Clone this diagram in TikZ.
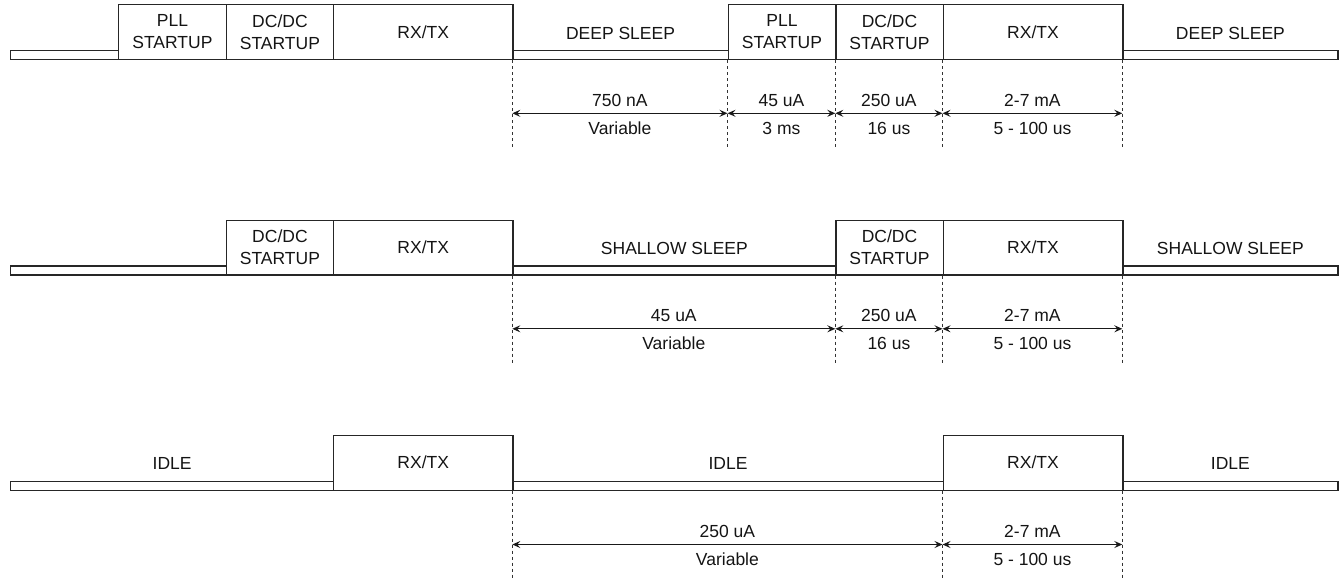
\documentclass[tikz,border=0pt]{standalone}
\usepackage{fontspec}
\setmainfont{Liberation Sans}
\usetikzlibrary{arrows.meta}
\begin{document}
\begin{tikzpicture}[x=1pt,y=-1pt,
  lbl/.style={font=\fontsize{17.5}{22}\selectfont, align=center, text=black!92},
  hi/.style={draw=black!85, line width=1.2pt, minimum height=54.8pt, inner sep=0pt, anchor=south west, lbl},
  lo/.style={draw=black!85, line width=1.2pt, minimum height=9pt, inner sep=0pt, anchor=south west},
  bartext/.style={lbl, inner sep=0pt, anchor=center, text height=12.5pt, text depth=0pt},
  guide/.style={draw=black!80, line width=0.8pt, dash pattern=on 3pt off 3pt},
  dim/.style={draw=black!90, line width=1.1pt, {Stealth[length=8pt,width=7pt,inset=3pt]}-{Stealth[length=8pt,width=7pt,inset=3pt]}},
  up/.style={lbl, yshift=13.5pt, text height=12.5pt, text depth=0pt, inner sep=0pt},
  dn/.style={lbl, yshift=-14.5pt, text height=12.5pt, text depth=0pt, inner sep=0pt}
]
\useasboundingbox (0,0) rectangle (1340,579);

% ---------- Row 1 ----------
\node[lo, minimum width=108pt] (r1a) at (10,60) {};
\node[hi, minimum width=107.7pt] (r1b) at (118,60) {PLL\\STARTUP};
\node[hi, minimum width=107.3pt] (r1c) at (225.7,60) {DC/DC\\STARTUP};
\node[hi, minimum width=179.3pt] (r1d) at (333,60) {RX/TX};
\node[lo, minimum width=215.2pt] (r1e) at (512.3,60) {};
\node[bartext] (r1et) at ([yshift=22pt]r1e.center) {DEEP SLEEP};
\node[hi, minimum width=107.8pt] (r1f) at (727.5,60) {PLL\\STARTUP};
\node[hi, minimum width=107.2pt] (r1g) at (835.3,60) {DC/DC\\STARTUP};
\node[hi, minimum width=179.8pt] (r1h) at (942.5,60) {RX/TX};
\node[lo, minimum width=215pt] (r1i) at (1122.3,60) {};
\node[bartext] (r1it) at ([yshift=22pt]r1i.center) {DEEP SLEEP};

\foreach \x [count=\i] in {512.3,727.5,835.3,942.5,1122.3} {
  \coordinate (g1t\i) at (\x,60);
  \coordinate (g1b\i) at (\x,149);
  \coordinate (g1a\i) at (\x,113.3);
  \draw[guide] (g1t\i) -- (g1b\i);
}
\draw[dim] (g1a1) -- node[up]{750 nA} node[dn]{Variable} (g1a2);
\draw[dim] (g1a2) -- node[up]{45 uA} node[dn]{3 ms} (g1a3);
\draw[dim] (g1a3) -- node[up]{250 uA} node[dn]{16 us} (g1a4);
\draw[dim] (g1a4) -- node[up]{2-7 mA} node[dn]{5 - 100 us} (g1a5);

% ---------- Row 2 ----------
\node[lo, minimum width=215.7pt] (r2a) at (10,275.5) {};
\node[hi, minimum width=107.3pt] (r2b) at (225.7,275.5) {DC/DC\\STARTUP};
\node[hi, minimum width=179.3pt] (r2c) at (333,275.5) {RX/TX};
\node[lo, minimum width=323pt] (r2d) at (512.3,275.5) {};
\node[bartext] (r2dt) at ([yshift=22pt]r2d.center) {SHALLOW SLEEP};
\node[hi, minimum width=107.2pt] (r2e) at (835.3,275.5) {DC/DC\\STARTUP};
\node[hi, minimum width=179.8pt] (r2f) at (942.5,275.5) {RX/TX};
\node[lo, minimum width=215pt] (r2g) at (1122.3,275.5) {};
\node[bartext] (r2gt) at ([yshift=22pt]r2g.center) {SHALLOW SLEEP};

\foreach \x [count=\i] in {512.3,835.3,942.5,1122.3} {
  \coordinate (g2t\i) at (\x,275.5);
  \coordinate (g2b\i) at (\x,364.5);
  \coordinate (g2a\i) at (\x,328.8);
  \draw[guide] (g2t\i) -- (g2b\i);
}
\draw[dim] (g2a1) -- node[up]{45 uA} node[dn]{Variable} (g2a2);
\draw[dim] (g2a2) -- node[up]{250 uA} node[dn]{16 us} (g2a3);
\draw[dim] (g2a3) -- node[up]{2-7 mA} node[dn]{5 - 100 us} (g2a4);

% ---------- Row 3 ----------
\node[lo, minimum width=323pt] (r3a) at (10,490.7) {};
\node[bartext] (r3at) at ([yshift=22pt]r3a.center) {IDLE};
\node[hi, minimum width=179.3pt] (r3b) at (333,490.7) {RX/TX};
\node[lo, minimum width=430.2pt] (r3c) at (512.3,490.7) {};
\node[bartext] (r3ct) at ([yshift=22pt]r3c.center) {IDLE};
\node[hi, minimum width=179.8pt] (r3d) at (942.5,490.7) {RX/TX};
\node[lo, minimum width=215pt] (r3e) at (1122.3,490.7) {};
\node[bartext] (r3et) at ([yshift=22pt]r3e.center) {IDLE};

\foreach \x [count=\i] in {512.3,942.5,1122.3} {
  \coordinate (g3t\i) at (\x,490.7);
  \coordinate (g3b\i) at (\x,579);
  \coordinate (g3a\i) at (\x,544.5);
  \draw[guide] (g3t\i) -- (g3b\i);
}
\draw[dim] (g3a1) -- node[up]{250 uA} node[dn]{Variable} (g3a2);
\draw[dim] (g3a2) -- node[up]{2-7 mA} node[dn]{5 - 100 us} (g3a3);
\end{tikzpicture}
\end{document}
